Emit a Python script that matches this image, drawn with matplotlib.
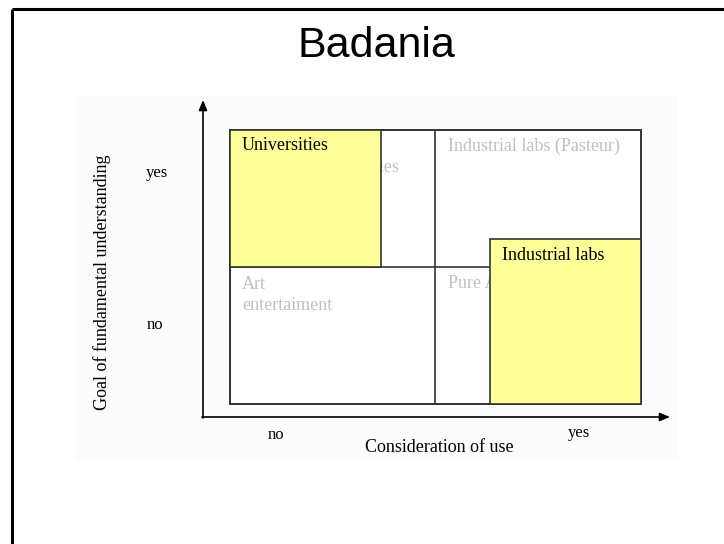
import matplotlib
matplotlib.use("Agg")
import matplotlib.pyplot as plt
from matplotlib.patches import Rectangle

title = "Badania"
y_axis_label = "Goal of fundamental understanding"
x_axis_label = "Consideration of use"
y_ticks = ["yes", "no"]
x_ticks = ["no", "yes"]
quadrant_labels = ["Universities", "Industrial labs (Pasteur)",
                   "Art\nentertaiment", "Pure Applied"]
highlight_labels = ["Universities", "Industrial labs"]

fig = plt.figure(figsize=(7.24, 5.44), dpi=100)
ax = fig.add_axes([0, 0, 1, 1])
ax.set_xlim(0, 724)
ax.set_ylim(544, 0)
ax.axis("off")

serif = "Liberation Serif"
sans = "Liberation Sans"
gray = "#c0c0c0"
yellow = "#ffff99"
line_c = "#333333"

# faint pasted-picture background
ax.add_patch(Rectangle((75, 95), 678 - 75, 461 - 95, fc="#fcfcfc", ec="none", zorder=0))

# slide border (top and left)
ax.plot([11.5, 724], [8.5, 8.5], color="black", lw=2.2, solid_capstyle="butt")
ax.plot([11.5, 11.5], [8.5, 544], color="black", lw=2.2, solid_capstyle="butt")

# title
ax.text(376, 57, title, ha="center", va="baseline", fontsize=31, family=sans)

# axes arrows
ax.annotate("", xy=(203, 100), xytext=(203, 418),
            arrowprops=dict(arrowstyle="-|>,head_length=0.6,head_width=0.25",
                            color="black", lw=1.2, shrinkA=0, shrinkB=0))
ax.annotate("", xy=(670, 417), xytext=(202, 417),
            arrowprops=dict(arrowstyle="-|>,head_length=0.6,head_width=0.25",
                            color="black", lw=1.2, shrinkA=0, shrinkB=0))

# quadrant grid
x0, xm, x1 = 230, 435, 641
y0, ym, y1 = 130, 267, 404
ax.add_patch(Rectangle((x0, y0), x1 - x0, y1 - y0, fc="white",
                       ec=line_c, lw=1.2, zorder=0.5))
ax.plot([xm, xm], [y0, y1], color=line_c, lw=1.2, zorder=2)
ax.plot([x0, x1], [ym, ym], color=line_c, lw=1.2, zorder=2)
ax.add_patch(Rectangle((x0, y0), x1 - x0, y1 - y0, fill=False,
                       ec=line_c, lw=1.2, zorder=2))

fs = 13
# gray quadrant labels
ax.text(313, 168, quadrant_labels[0], color=gray, fontsize=fs, family=serif,
        va="center", ha="left", zorder=1)
ax.text(448, 146, quadrant_labels[1], color=gray, fontsize=fs, family=serif,
        va="center", ha="left", zorder=1)
for i, line in enumerate(quadrant_labels[2].split("\n")):
    ax.text(242, 289 + 21 * i, line, color=gray, fontsize=fs, family=serif,
            va="baseline", ha="left", zorder=1)
ax.text(448, 284, quadrant_labels[3], color=gray, fontsize=fs, family=serif,
        va="center", ha="left", zorder=1)

# highlighted boxes
ax.add_patch(Rectangle((x0, y0), 381 - x0, ym - y0, fc=yellow, ec=line_c,
                       lw=1.2, zorder=3))
ax.add_patch(Rectangle((490, 239), x1 - 490, y1 - 239, fc=yellow, ec=line_c,
                       lw=1.2, zorder=3))
ax.text(242, 146, highlight_labels[0], color="black", fontsize=fs,
        family=serif, va="center", ha="left", zorder=4)
ax.text(502, 256, highlight_labels[1], color="black", fontsize=fs,
        family=serif, va="center", ha="left", zorder=4)

# axis tick labels
ax.text(146, 173, y_ticks[0], fontsize=12, family=serif, va="center", ha="left")
ax.text(147, 325, y_ticks[1], fontsize=12, family=serif, va="center", ha="left")
ax.text(276, 435, x_ticks[0], fontsize=12, family=serif, va="center", ha="center")
ax.text(579, 433, x_ticks[1], fontsize=12, family=serif, va="center", ha="center")

ax.text(439, 447, x_axis_label, fontsize=13, family=serif, va="center", ha="center")
ax.text(102, 282, y_axis_label, fontsize=13, family=serif, va="center",
        ha="center", rotation=90)

fig.savefig("out.png", dpi=100)
